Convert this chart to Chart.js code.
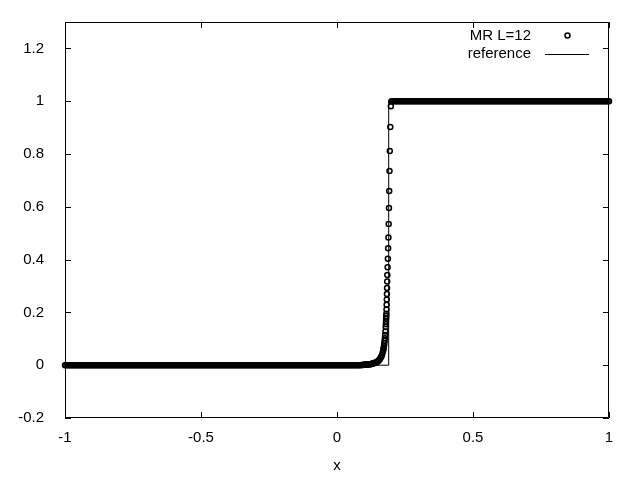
<!DOCTYPE html>
<html>
<head>
<meta charset="utf-8">
<title>MR L=12</title>
<script src="https://cdn.jsdelivr.net/npm/chart.js@4.4.1/dist/chart.umd.min.js"></script>
<style>
  html, body { margin: 0; padding: 0; background: #fff; }
  #wrap { width: 640px; height: 480px; }
</style>
</head>
<body>
<div id="wrap"><canvas id="chart" width="640" height="480"></canvas></div>
<script>
// MR L=12 samples: flat part at 0, the rise near x=0.18, flat part at 1
const lowLevel = 0;
const highLevel = 1;

const lowX = [
  -1, -0.995, -0.99, -0.985, -0.98, -0.975, -0.97, -0.965, -0.96, -0.955,
  -0.95, -0.945, -0.94, -0.935, -0.93, -0.925, -0.92, -0.915, -0.91, -0.905,
  -0.9, -0.895, -0.89, -0.885, -0.88, -0.875, -0.87, -0.865, -0.86, -0.855,
  -0.85, -0.845, -0.84, -0.835, -0.83, -0.825, -0.82, -0.815, -0.81, -0.805,
  -0.8, -0.795, -0.79, -0.785, -0.78, -0.775, -0.77, -0.765, -0.76, -0.755,
  -0.75, -0.745, -0.74, -0.735, -0.73, -0.725, -0.72, -0.715, -0.71, -0.705,
  -0.7, -0.695, -0.69, -0.685, -0.68, -0.675, -0.67, -0.665, -0.66, -0.655,
  -0.65, -0.645, -0.64, -0.635, -0.63, -0.625, -0.62, -0.615, -0.61, -0.605,
  -0.6, -0.595, -0.59, -0.585, -0.58, -0.575, -0.57, -0.565, -0.56, -0.555,
  -0.55, -0.545, -0.54, -0.535, -0.53, -0.525, -0.52, -0.515, -0.51, -0.505,
  -0.5, -0.495, -0.49, -0.485, -0.48, -0.475, -0.47, -0.465, -0.46, -0.455,
  -0.45, -0.445, -0.44, -0.435, -0.43, -0.425, -0.42, -0.415, -0.41, -0.405,
  -0.4, -0.395, -0.39, -0.385, -0.38, -0.375, -0.37, -0.365, -0.36, -0.355,
  -0.35, -0.345, -0.34, -0.335, -0.33, -0.325, -0.32, -0.315, -0.31, -0.305,
  -0.3, -0.295, -0.29, -0.285, -0.28, -0.275, -0.27, -0.265, -0.26, -0.255,
  -0.25, -0.245, -0.24, -0.235, -0.23, -0.225, -0.22, -0.215, -0.21, -0.205,
  -0.2, -0.195, -0.19, -0.185, -0.18, -0.175, -0.17, -0.165, -0.16, -0.155,
  -0.15, -0.145, -0.14, -0.135, -0.13, -0.125, -0.12, -0.115, -0.11, -0.105,
  -0.1, -0.095, -0.09, -0.085, -0.08, -0.075, -0.07, -0.065, -0.06, -0.055,
  -0.05, -0.045, -0.04, -0.035, -0.03, -0.025, -0.02, -0.015, -0.01, -0.005,
  0, 0.005, 0.01, 0.015, 0.02, 0.025, 0.03, 0.035, 0.04, 0.045,
  0.05, 0.055, 0.06, 0.065, 0.07, 0.075, 0.08, 0.085
];

const riseX = [
  0.09, 0.0925, 0.095, 0.0975, 0.1, 0.1025, 0.105, 0.1075, 0.11, 0.1125,
  0.115, 0.1175, 0.12, 0.1225, 0.125, 0.1275, 0.13, 0.1325, 0.135, 0.1375,
  0.14, 0.1425, 0.145, 0.1475, 0.15, 0.1525, 0.155, 0.1575, 0.16, 0.1625,
  0.165, 0.1675, 0.17, 0.171, 0.172, 0.173, 0.174, 0.175, 0.176, 0.177,
  0.178, 0.179, 0.1795, 0.18, 0.1805, 0.181, 0.1815, 0.182, 0.1825, 0.183,
  0.1835, 0.184, 0.1845, 0.185, 0.186, 0.187, 0.188, 0.189, 0.19, 0.191,
  0.192, 0.193, 0.194, 0.196, 0.198
];
const riseY = [
  0.001, 0.001, 0.001, 0.002, 0.002, 0.002, 0.002, 0.003, 0.003, 0.003,
  0.003, 0.004, 0.004, 0.004, 0.005, 0.005, 0.006, 0.006, 0.007, 0.008,
  0.009, 0.01, 0.011, 0.013, 0.015, 0.017, 0.02, 0.023, 0.027, 0.032,
  0.038, 0.046, 0.056, 0.062, 0.068, 0.075, 0.083, 0.092, 0.102, 0.114,
  0.128, 0.145, 0.155, 0.166, 0.177, 0.186, 0.195, 0.211, 0.229, 0.249,
  0.27, 0.292, 0.317, 0.342, 0.371, 0.403, 0.443, 0.484, 0.535, 0.595,
  0.66, 0.736, 0.811, 0.902, 0.981
];

const highX = [
  0.2, 0.205, 0.21, 0.215, 0.22, 0.225, 0.23, 0.235, 0.24, 0.245,
  0.25, 0.255, 0.26, 0.265, 0.27, 0.275, 0.28, 0.285, 0.29, 0.295,
  0.3, 0.305, 0.31, 0.315, 0.32, 0.325, 0.33, 0.335, 0.34, 0.345,
  0.35, 0.355, 0.36, 0.365, 0.37, 0.375, 0.38, 0.385, 0.39, 0.395,
  0.4, 0.405, 0.41, 0.415, 0.42, 0.425, 0.43, 0.435, 0.44, 0.445,
  0.45, 0.455, 0.46, 0.465, 0.47, 0.475, 0.48, 0.485, 0.49, 0.495,
  0.5, 0.505, 0.51, 0.515, 0.52, 0.525, 0.53, 0.535, 0.54, 0.545,
  0.55, 0.555, 0.56, 0.565, 0.57, 0.575, 0.58, 0.585, 0.59, 0.595,
  0.6, 0.605, 0.61, 0.615, 0.62, 0.625, 0.63, 0.635, 0.64, 0.645,
  0.65, 0.655, 0.66, 0.665, 0.67, 0.675, 0.68, 0.685, 0.69, 0.695,
  0.7, 0.705, 0.71, 0.715, 0.72, 0.725, 0.73, 0.735, 0.74, 0.745,
  0.75, 0.755, 0.76, 0.765, 0.77, 0.775, 0.78, 0.785, 0.79, 0.795,
  0.8, 0.805, 0.81, 0.815, 0.82, 0.825, 0.83, 0.835, 0.84, 0.845,
  0.85, 0.855, 0.86, 0.865, 0.87, 0.875, 0.88, 0.885, 0.89, 0.895,
  0.9, 0.905, 0.91, 0.915, 0.92, 0.925, 0.93, 0.935, 0.94, 0.945,
  0.95, 0.955, 0.96, 0.965, 0.97, 0.975, 0.98, 0.985, 0.99, 0.995,
  1
];

// reference solution, a plain step
const refX = [-1, 0.19, 0.19, 1];
const refY = [0, 0, 1, 1];

const xTicks = [-1, -0.5, 0, 0.5, 1];
const yTicks = [-0.2, 0, 0.2, 0.4, 0.6, 0.8, 1, 1.2];

const mrPoints = lowX.map(x => ({ x: x, y: lowLevel }))
  .concat(riseX.map((x, i) => ({ x: x, y: riseY[i] })))
  .concat(highX.map(x => ({ x: x, y: highLevel })));
const refPoints = refX.map((x, i) => ({ x: x, y: refY[i] }));

const font = { family: '"Liberation Sans", Arial, sans-serif', size: 15 };
const tickLen = 6;

// gnuplot style box with inward ticks on all four sides
const framePlugin = {
  id: 'frame',
  beforeDatasetsDraw(chart) {
    const { ctx, chartArea: a, scales } = chart;
    ctx.save();
    ctx.strokeStyle = '#000';
    ctx.lineWidth = 1;
    ctx.beginPath();
    ctx.rect(a.left + 0.5, a.top + 0.5, a.right - a.left - 1, a.bottom - a.top - 1);
    xTicks.forEach(v => {
      const px = Math.round(scales.x.getPixelForValue(v)) + 0.5;
      ctx.moveTo(px, a.bottom);
      ctx.lineTo(px, a.bottom - tickLen);
      ctx.moveTo(px, a.top);
      ctx.lineTo(px, a.top + tickLen);
    });
    yTicks.forEach(v => {
      const py = Math.round(scales.y.getPixelForValue(v)) + 0.5;
      ctx.moveTo(a.left, py);
      ctx.lineTo(a.left + tickLen, py);
      ctx.moveTo(a.right, py);
      ctx.lineTo(a.right - tickLen, py);
    });
    ctx.stroke();
    ctx.restore();
  }
};

// key in the top right corner: text right aligned, sample on its right
const keyPlugin = {
  id: 'key',
  afterDatasetsDraw(chart) {
    const { ctx, chartArea: a } = chart;
    const ds = chart.data.datasets;
    const textRight = a.right - 78;
    ctx.save();
    ctx.font = font.size + 'px ' + font.family;
    ctx.fillStyle = '#000';
    ctx.strokeStyle = '#000';
    ctx.textAlign = 'right';
    ctx.textBaseline = 'alphabetic';
    ctx.fillText(ds[0].label, textRight, a.top + 18);
    ctx.lineWidth = 1.5;
    ctx.beginPath();
    ctx.arc(a.right - 41.5, a.top + 13.5, 2.5, 0, Math.PI * 2);
    ctx.stroke();
    ctx.fillText(ds[1].label, textRight, a.top + 36);
    ctx.lineWidth = 1;
    ctx.beginPath();
    ctx.moveTo(a.right - 64, a.top + 32.5);
    ctx.lineTo(a.right - 20, a.top + 32.5);
    ctx.stroke();
    ctx.restore();
  }
};

new Chart(document.getElementById('chart'), {
  type: 'scatter',
  data: {
    datasets: [
      {
        label: 'MR L=12',
        data: mrPoints,
        showLine: false,
        pointStyle: 'circle',
        pointRadius: 2.5,
        pointBorderWidth: 1.5,
        pointBorderColor: '#000',
        pointBackgroundColor: 'rgba(0,0,0,0)',
        clip: false
      },
      {
        label: 'reference',
        data: refPoints,
        showLine: true,
        borderColor: '#000',
        borderWidth: 1,
        pointRadius: 0,
        fill: false
      }
    ]
  },
  options: {
    responsive: false,
    animation: false,
    devicePixelRatio: 1,
    events: [],
    layout: { padding: { top: 20, right: 31, left: 0, bottom: 0 } },
    plugins: {
      legend: { display: false },
      tooltip: { enabled: false }
    },
    scales: {
      x: {
        type: 'linear',
        min: -1,
        max: 1,
        afterBuildTicks: s => { s.ticks = xTicks.map(v => ({ value: v })); },
        afterFit: s => { s.height = 62; },
        grid: { display: false },
        border: { display: false },
        ticks: { padding: 3, color: '#000', font: font, maxRotation: 0, autoSkip: false, callback: v => String(v) },
        title: { display: true, text: 'x', color: '#000', font: font, padding: { top: 0, bottom: 5 } }
      },
      y: {
        type: 'linear',
        min: -0.2,
        max: 1.3,
        afterBuildTicks: s => { s.ticks = yTicks.map(v => ({ value: v })); },
        afterFit: s => { s.width = 65; },
        grid: { display: false },
        border: { display: false },
        ticks: { padding: 13, color: '#000', font: font, autoSkip: false, callback: v => String(v) }
      }
    }
  },
  plugins: [framePlugin, keyPlugin]
});
</script>
</body>
</html>
